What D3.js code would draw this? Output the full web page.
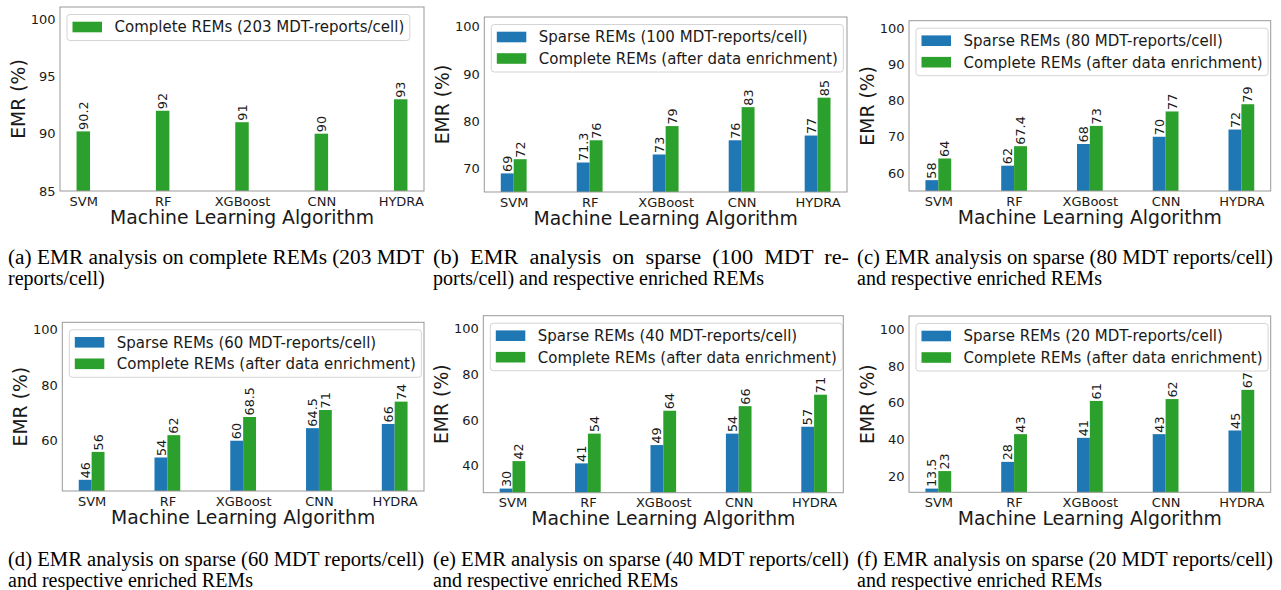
<!DOCTYPE html>
<html>
<head>
<meta charset="utf-8">
<script src="https://cdn.jsdelivr.net/npm/d3@7"></script>
<style>
  body { margin: 0; background: #fff; }
  svg { display: block; }
</style>
</head>
<body>
<svg id="fig" width="1281" height="590"></svg>
<script>
const algorithms = ['SVM', 'RF', 'XGBoost', 'CNN', 'HYDRA'];

// (a) complete REMs only
const complete203 = [90.2, 92, 91, 90, 93];
// (b)-(f) sparse vs enriched
const sparse100 = [69, 71.3, 73, 76, 77];
const enriched100 = [72, 76, 79, 83, 85];
const sparse80 = [58, 62, 68, 70, 72];
const enriched80 = [64, 67.4, 73, 77, 79];
const sparse60 = [46, 54, 60, 64.5, 66];
const enriched60 = [56, 62, 68.5, 71, 74];
const sparse40 = [30, 41, 49, 54, 57];
const enriched40 = [42, 54, 64, 66, 71];
const sparse20 = [13.5, 28, 41, 43, 45];
const enriched20 = [23, 43, 61, 62, 67];

const ticksA = [85, 90, 95, 100];
const ticksB = [70, 80, 90, 100];
const ticksC = [60, 70, 80, 90, 100];
const ticksD = [60, 80, 100];
const ticksE = [40, 60, 80, 100];
const ticksF = [20, 40, 60, 80, 100];

const enrichedLabel = 'Complete REMs (after data enrichment)';
const legendA = ['Complete REMs (203 MDT-reports/cell)'];
const legendB = ['Sparse REMs (100 MDT-reports/cell)', enrichedLabel];
const legendC = ['Sparse REMs (80 MDT-reports/cell)', enrichedLabel];
const legendD = ['Sparse REMs (60 MDT-reports/cell)', enrichedLabel];
const legendE = ['Sparse REMs (40 MDT-reports/cell)', enrichedLabel];
const legendF = ['Sparse REMs (20 MDT-reports/cell)', enrichedLabel];

const captionA = ['(a) EMR analysis on complete REMs (203 MDT', 'reports/cell)'];
const captionB = ['(b)  EMR  analysis  on  sparse  (100  MDT  re-', 'ports/cell) and respective enriched REMs'];
const captionC = ['(c) EMR analysis on sparse (80 MDT reports/cell)', 'and respective enriched REMs'];
const captionD = ['(d) EMR analysis on sparse (60 MDT reports/cell)', 'and respective enriched REMs'];
const captionE = ['(e) EMR analysis on sparse (40 MDT reports/cell)', 'and respective enriched REMs'];
const captionF = ['(f) EMR analysis on sparse (20 MDT reports/cell)', 'and respective enriched REMs'];

const blue = '#1f77b4', green = '#2ca02c';
const sans = 'DejaVu Sans, sans-serif';
const serif = 'Liberation Serif, Times New Roman, serif';
const ink = '#1a1a1a';
const barW = 0.17;

// frame: [left, right, top, bottom]
const panels = [
  {frame: [60, 424, 7, 191], ydom: [85, 101.05], ticks: ticksA, series: [complete203], colors: [green], legend: legendA, caption: captionA, capX: 8, capY: 264},
  {frame: [484.3, 847, 17, 192], ydom: [65.07, 102.05], ticks: ticksB, series: [sparse100, enriched100], colors: [blue, green], legend: legendB, caption: captionB, capX: 433, capY: 264},
  {frame: [909, 1270.7, 20.7, 191], ydom: [55, 102.1], ticks: ticksC, series: [sparse80, enriched80], colors: [blue, green], legend: legendC, caption: captionC, capX: 857, capY: 264},
  {frame: [62.3, 424, 322.3, 491], ydom: [42, 102.4], ticks: ticksD, series: [sparse60, enriched60], colors: [blue, green], legend: legendD, caption: captionD, capX: 8, capY: 566},
  {frame: [483.3, 843.3, 315.7, 492.7], ydom: [28.2, 105.5], ticks: ticksE, series: [sparse40, enriched40], colors: [blue, green], legend: legendE, caption: captionE, capX: 433, capY: 566},
  {frame: [909, 1270.7, 316, 492.3], ydom: [11.5, 107], ticks: ticksF, series: [sparse20, enriched20], colors: [blue, green], legend: legendF, caption: captionF, capX: 857, capY: 566}
];

const svg = d3.select('#fig');

panels.forEach(p => {
  const [L, R, T, B] = p.frame;
  const n = algorithms.length;
  const single = p.series.length === 1;
  const pad = single ? barW / 2 + 0.05 * (n - 1 + barW) : barW + 0.05 * (n - 1 + 2 * barW);
  const x = d3.scaleLinear().domain([-pad, n - 1 + pad]).range([L, R]);
  const y = d3.scaleLinear().domain(p.ydom).range([B, T]);
  const bw = x(barW) - x(0);
  const g = svg.append('g');

  p.series.forEach((vals, k) => {
    const off = single ? -barW / 2 : (k === 0 ? -barW : 0);
    g.selectAll(null).data(vals).enter().append('rect')
      .attr('x', (d, i) => x(i + off))
      .attr('width', bw)
      .attr('y', d => y(d))
      .attr('height', d => B - y(d))
      .attr('fill', p.colors[k]);
    g.selectAll(null).data(vals).enter().append('text')
      .attr('transform', (d, i) => `translate(${x(i + off) + bw / 2 + 4.6},${y(d) - 1.5}) rotate(-90)`)
      .attr('font-family', sans).attr('font-size', 12.8).attr('fill', ink)
      .text(d => String(d));
  });

  // frame
  g.append('rect').attr('x', L).attr('y', T).attr('width', R - L).attr('height', B - T)
    .attr('fill', 'none').attr('stroke', '#999').attr('stroke-width', 1);

  const ya = g.append('g').attr('transform', `translate(${L},0)`)
    .call(d3.axisLeft(y).tickValues(p.ticks).tickSize(0).tickPadding(4.5));
  ya.select('.domain').remove();
  ya.attr('font-family', sans).attr('font-size', 13).style('color', ink);

  const xa = g.append('g').attr('transform', `translate(0,${B})`)
    .call(d3.axisBottom(x).tickValues(d3.range(n)).tickFormat(i => algorithms[i]).tickSize(0).tickPadding(5.5));
  xa.select('.domain').remove();
  xa.attr('font-family', sans).attr('font-size', 13).style('color', ink);

  g.append('text').attr('x', (L + R) / 2).attr('y', B + 32.5)
    .attr('text-anchor', 'middle').attr('font-family', sans).attr('font-size', 18.8).attr('fill', ink)
    .text('Machine Learning Algorithm');
  g.append('text').attr('transform', `translate(${L - 35.5},${(T + B) / 2}) rotate(-90)`)
    .attr('text-anchor', 'middle').attr('font-family', sans).attr('font-size', 18.8).attr('fill', ink)
    .text('EMR (%)');

  // legend
  const lx = L + 7, ly = T + 7.5;
  const lg = g.append('g');
  const box = lg.append('rect').attr('x', lx).attr('y', ly).attr('rx', 3)
    .attr('fill', 'white').attr('fill-opacity', 0.85).attr('stroke', '#d4d4d4');
  let maxW = 0;
  p.legend.forEach((lab, k) => {
    const cy = ly + 12.5 + 21.5 * k;
    lg.append('rect').attr('x', lx + 5.5).attr('y', cy - 5.3).attr('width', 29.5).attr('height', 10.6)
      .attr('fill', p.colors[k]);
    const t = lg.append('text').attr('x', lx + 47.5).attr('y', cy + 5.4)
      .attr('font-family', sans).attr('font-size', 15).attr('fill', ink).text(lab);
    maxW = Math.max(maxW, t.node().getComputedTextLength());
  });
  box.attr('width', 47.5 + maxW + 5.5).attr('height', 26 + 21.5 * (p.legend.length - 1));

  // caption
  p.caption.forEach((line, k) => {
    const t = svg.append('text').attr('x', p.capX).attr('y', p.capY + (k === 0 ? 0 : 21))
      .attr('font-family', serif).attr('font-size', 20).attr('fill', '#000')
      .style('white-space', 'pre').text(line);
    if (k === 0) t.attr('textLength', 416).attr('lengthAdjust', 'spacingAndGlyphs');
  });
});
</script>
</body>
</html>
